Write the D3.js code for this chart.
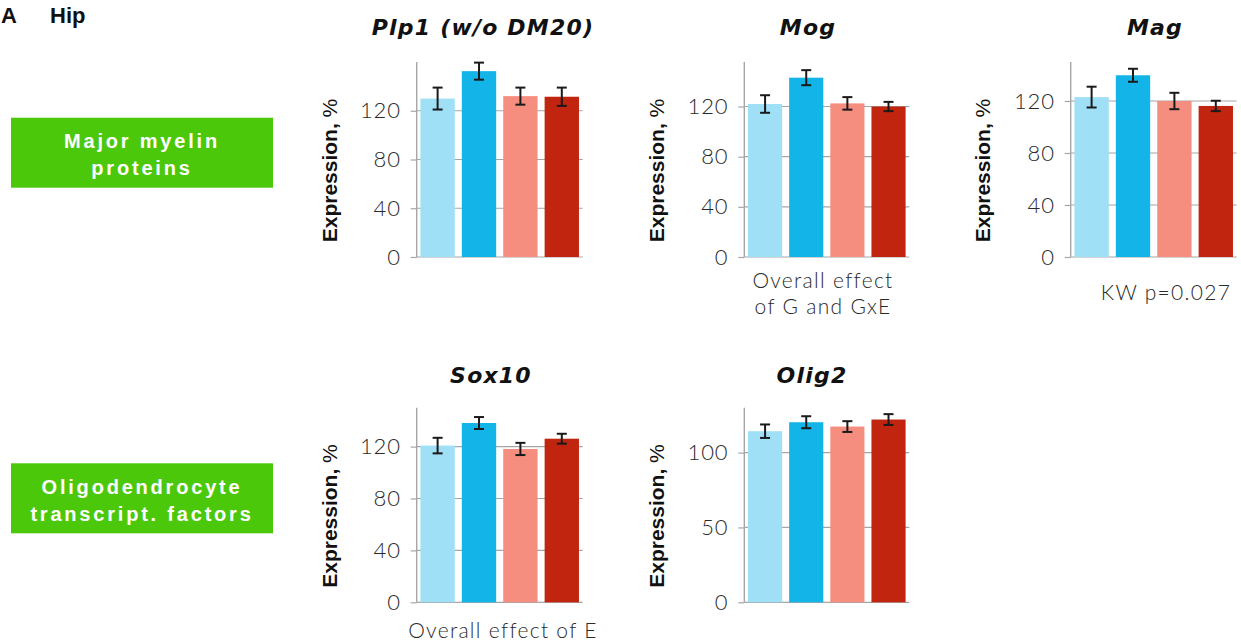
<!DOCTYPE html>
<html><head><meta charset="utf-8">
<script src="https://cdn.jsdelivr.net/npm/d3@7"></script>
<style>
html,body{margin:0;padding:0;background:#fff;}
svg{display:block;}
</style></head>
<body>
<svg id="chart" width="1241" height="643"></svg>
<script>
// ---------- DATA ----------
const categories = ["G1", "G2", "G3", "G4"];
const groupColors = ["#a0e0f7", "#13b4e8", "#f68e80", "#c2250f"];

const plp1Means = [130, 152.5, 132, 131.5];
const plp1Errors = [9, 7, 7, 7.5];
const mogMeans = [122, 143, 122.5, 120];
const mogErrors = [7, 6, 5, 3.7];
const magMeans = [123, 139.8, 120, 116.2];
const magErrors = [8, 5, 6.3, 4];
const sox10Means = [120.8, 138.2, 118.2, 126.1];
const sox10Errors = [6, 4.6, 4.7, 3.8];
const olig2Means = [114.3, 120.3, 117.4, 122.1];
const olig2Errors = [4.5, 4, 3.6, 3.6];

const ticks40 = [0, 40, 80, 120];
const ticks50 = [0, 50, 100];

const panelTitles = ["Plp1 (w/o DM20)", "Mog", "Mag", "Sox10", "Olig2"];
const categoryLabels = [["Major myelin", "proteins"], ["Oligodendrocyte", "transcript. factors"]];

// ---------- LAYOUT ----------
const svg = d3.select("#chart");

const panels = [
  {title: panelTitles[0], means: plp1Means, errs: plp1Errors, max: 160, ticks: ticks40,
   x0: 416.7, x1: 582.7, y0: 62, y1: 257, titleX: 483, titleY: 35, ylabX: 330,
   notes: []},
  {title: panelTitles[1], means: mogMeans, errs: mogErrors, max: 155.5, ticks: ticks40,
   x0: 744.3, x1: 909.3, y0: 62, y1: 257, titleX: 808, titleY: 35, ylabX: 657,
   notes: [{t: "Overall effect", x: 823, y: 288}, {t: "of G and GxE", x: 823, y: 314}]},
  {title: panelTitles[2], means: magMeans, errs: magErrors, max: 150, ticks: ticks40,
   x0: 1070.7, x1: 1236.7, y0: 62, y1: 257, titleX: 1155, titleY: 35, ylabX: 983,
   notes: [{t: "KW p=0.027", x: 1166, y: 300}]},
  {title: panelTitles[3], means: sox10Means, errs: sox10Errors, max: 150, ticks: ticks40,
   x0: 416.7, x1: 582.7, y0: 407.7, y1: 602.3, titleX: 491, titleY: 383, ylabX: 330,
   notes: [{t: "Overall effect of E", x: 503, y: 638}]},
  {title: panelTitles[4], means: olig2Means, errs: olig2Errors, max: 130, ticks: ticks50,
   x0: 744.3, x1: 909.3, y0: 407.7, y1: 602.3, titleX: 812, titleY: 383, ylabX: 657,
   notes: []}
];

const lightFont = "'Lato', 'Open Sans', 'Liberation Sans', sans-serif";

panels.forEach(p => {
  const g = svg.append("g");
  const x = d3.scaleBand().domain(categories).range([p.x0, p.x1])
    .paddingInner(0.17).paddingOuter(0.09);
  const y = d3.scaleLinear().domain([0, p.max]).range([p.y1, p.y0]);

  // gridlines + ticks
  const axis = d3.axisLeft(y).tickValues(p.ticks).tickSize(6).tickPadding(10);
  const ax = g.append("g").attr("transform", `translate(${p.x0},0)`).call(axis);
  ax.select(".domain").remove();
  ax.selectAll(".tick line").attr("stroke", "#a6a6a6").attr("stroke-width", 1.2);
  ax.selectAll(".tick text")
    .attr("font-family", lightFont).attr("font-weight", 300)
    .attr("font-size", 22).attr("letter-spacing", 0.8).attr("fill", "#2a2a2a");
  g.append("g").selectAll("line").data(p.ticks).join("line")
    .attr("x1", p.x0).attr("x2", p.x1)
    .attr("y1", d => y(d)).attr("y2", d => y(d))
    .attr("stroke", "#a6a6a6").attr("stroke-width", 1.2);
  // y axis line
  g.append("line").attr("x1", p.x0).attr("x2", p.x0)
    .attr("y1", p.y0).attr("y2", p.y1)
    .attr("stroke", "#a6a6a6").attr("stroke-width", 1.4);

  // bars
  g.append("g").selectAll("rect").data(categories).join("rect")
    .attr("x", d => x(d)).attr("width", x.bandwidth())
    .attr("y", (d, i) => y(p.means[i]))
    .attr("height", (d, i) => y(0) - y(p.means[i]))
    .attr("fill", (d, i) => groupColors[i]);

  // error bars
  const eb = g.append("g").attr("stroke", "#1a1a1a").attr("stroke-width", 2);
  categories.forEach((c, i) => {
    const cx = x(c) + x.bandwidth() / 2;
    const top = y(p.means[i] + p.errs[i]);
    const bot = y(p.means[i] - p.errs[i]);
    eb.append("line").attr("x1", cx).attr("x2", cx).attr("y1", top).attr("y2", bot);
    eb.append("line").attr("x1", cx - 5).attr("x2", cx + 5).attr("y1", top).attr("y2", top);
    eb.append("line").attr("x1", cx - 5).attr("x2", cx + 5).attr("y1", bot).attr("y2", bot);
  });

  // title
  g.append("text").attr("x", p.titleX).attr("y", p.titleY)
    .attr("text-anchor", "middle")
    .attr("font-family", "'DejaVu Sans', sans-serif")
    .attr("font-weight", "bold").attr("font-style", "oblique")
    .attr("font-size", 22).attr("letter-spacing", 1.2)
    .attr("fill", "#111").text(p.title);

  // y label
  const cy = (p.y0 + p.y1) / 2 + 11;
  const yl = g.append("text")
    .attr("transform", `translate(${p.ylabX + 7},${cy}) rotate(-90)`)
    .attr("text-anchor", "middle")
    .attr("font-family", "'Liberation Sans', Arial, sans-serif")
    .attr("font-size", 21).attr("fill", "#111");
  yl.append("tspan").attr("font-weight", "bold").text("Expression, ");
  yl.append("tspan").attr("font-weight", "normal").text("%");

  // notes
  p.notes.forEach(n => {
    g.append("text").attr("x", n.x).attr("y", n.y).attr("text-anchor", "middle")
      .attr("font-family", lightFont).attr("font-weight", 300)
      .attr("font-size", 21).attr("letter-spacing", 1.3)
      .attr("fill", "#2a2a2a").text(n.t);
  });
});

// category boxes
const boxes = [{y: 117.7, h: 70, lines: categoryLabels[0], base: [148, 175]},
               {y: 463.3, h: 70, lines: categoryLabels[1], base: [494, 521]}];
boxes.forEach(b => {
  svg.append("rect").attr("x", 11).attr("y", b.y).attr("width", 262).attr("height", b.h)
    .attr("fill", "#4cc80a");
  b.lines.forEach((t, i) => {
    svg.append("text").attr("x", 142).attr("y", b.base[i]).attr("text-anchor", "middle")
      .attr("font-family", "'Liberation Sans', Arial, sans-serif")
      .attr("font-weight", "bold").attr("font-size", 20).attr("letter-spacing", 2.8)
      .attr("fill", "#fff").text(t);
  });
});

// header
svg.append("text").attr("x", 1).attr("y", 23)
  .attr("font-family", "'Liberation Sans', Arial, sans-serif")
  .attr("font-weight", "bold")
  .attr("font-size", 22).attr("fill", "#111").text("A");
svg.append("text").attr("x", 50).attr("y", 23)
  .attr("font-family", "'Liberation Sans', Arial, sans-serif")
  .attr("font-weight", "bold")
  .attr("font-size", 22).attr("fill", "#111").text("Hip");
</script>
</body></html>
